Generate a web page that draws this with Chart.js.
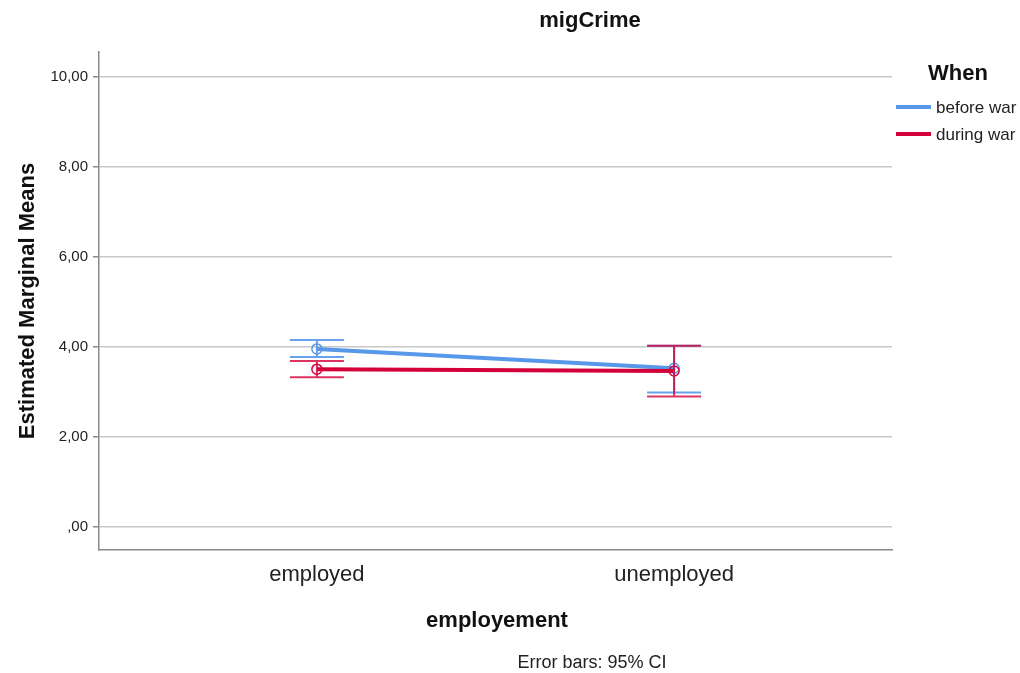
<!DOCTYPE html>
<html>
<head>
<meta charset="utf-8">
<title>migCrime</title>
<script src="https://cdn.jsdelivr.net/npm/chart.js@4"></script>
<style>
  body { margin: 0; background: #fff; }
  canvas { display: block; }
</style>
</head>
<body>
<canvas id="chart-migcrime" width="1020" height="673"></canvas>
<script>
// Estimated marginal means of migCrime by employment status
const categories = ["employed", "unemployed"];
const seriesNames = ["before war", "during war"];

const beforeWar = [3.96, 3.53];
const beforeLow = [3.78, 2.99];
const beforeHigh = [4.16, 4.03];

const duringWar = [3.51, 3.47];
const duringLow = [3.33, 2.90];
const duringHigh = [3.69, 4.03];

const yTicks = [0, 2, 4, 6, 8, 10];

const blue = "rgb(88, 152, 232)";
const red = "rgb(212, 0, 58)";
const FONT = "'Liberation Sans', Arial, sans-serif";

const toPoints = (vals) => vals.map((v, i) => ({ x: i, y: v }));

// SPSS style number format: 4,00 and ,00
const fmt = (v) => {
  let s = v.toFixed(2).replace(".", ",");
  if (s.startsWith("0,")) s = s.slice(1);
  return s;
};

const errorBars = {
  id: "errorBars",
  afterDatasetsDraw(chart) {
    const ctx = chart.ctx;
    const xs = chart.scales.x;
    const ys = chart.scales.y;
    const sets = [
      { low: beforeLow, high: beforeHigh, color: "rgba(88, 152, 232, 0.9)" },
      { low: duringLow, high: duringHigh, color: "rgba(212, 0, 58, 0.8)" },
    ];
    ctx.save();
    ctx.lineWidth = 2;
    for (const s of sets) {
      ctx.strokeStyle = s.color;
      for (let i = 0; i < categories.length; i++) {
        const px = xs.getPixelForValue(i);
        const top = ys.getPixelForValue(s.high[i]);
        const bot = ys.getPixelForValue(s.low[i]);
        ctx.beginPath();
        ctx.moveTo(px, top);
        ctx.lineTo(px, bot);
        ctx.moveTo(px - 27, top);
        ctx.lineTo(px + 27, top);
        ctx.moveTo(px - 27, bot);
        ctx.lineTo(px + 27, bot);
        ctx.stroke();
      }
    }
    ctx.restore();
  },
};

const labels = {
  id: "labels",
  afterDraw(chart) {
    const ctx = chart.ctx;
    ctx.save();
    ctx.fillStyle = "#111";
    ctx.textBaseline = "middle";
    ctx.textAlign = "center";

    ctx.font = "bold 22px " + FONT;
    ctx.fillText("migCrime", 590, 21);
    ctx.fillText("employement", 497, 621);

    ctx.save();
    ctx.translate(28, 301);
    ctx.rotate(-Math.PI / 2);
    ctx.fillText("Estimated Marginal Means", 0, 0);
    ctx.restore();

    ctx.fillText("When", 958, 74);

    ctx.font = "18px " + FONT;
    ctx.fillStyle = "#222";
    ctx.fillText("Error bars: 95% CI", 592, 663);

    // legend
    const colors = [blue, red];
    ctx.textAlign = "left";
    ctx.font = "17px " + FONT;
    seriesNames.forEach((name, i) => {
      const y = 107 + i * 27;
      ctx.strokeStyle = colors[i];
      ctx.lineWidth = 4;
      ctx.beginPath();
      ctx.moveTo(896, y);
      ctx.lineTo(931, y);
      ctx.stroke();
      ctx.fillText(name, 936, y + 1);
    });
    ctx.restore();
  },
};

const lineSet = (label, vals, color) => ({
  label: label,
  data: toPoints(vals),
  showLine: true,
  borderColor: color,
  borderWidth: 4,
  pointRadius: 5,
  pointBorderWidth: 1.5,
  pointBorderColor: color,
  pointBackgroundColor: "rgba(0,0,0,0)",
});

new Chart(document.getElementById("chart-migcrime"), {
  type: "scatter",
  data: {
    datasets: [
      lineSet(seriesNames[1], duringWar, red),
      lineSet(seriesNames[0], beforeWar, blue),
    ],
  },
  options: {
    responsive: false,
    animation: false,
    layout: { padding: { left: 0, top: 52, right: 128, bottom: 0 } },
    plugins: {
      legend: { display: false },
      title: { display: false },
      tooltip: { enabled: false },
    },
    scales: {
      x: {
        type: "linear",
        min: -0.61,
        max: 1.61,
        afterBuildTicks: (scale) => {
          scale.ticks = categories.map((c, i) => ({ value: i }));
        },
        afterFit: (scale) => {
          scale.height = 123;
        },
        grid: { display: false, drawTicks: false },
        border: { display: true, color: "#8a8a8a", width: 1.5 },
        ticks: {
          padding: 12,
          color: "#222",
          font: { family: FONT, size: 22 },
          callback: (v) => categories[v],
        },
      },
      y: {
        min: -0.51,
        max: 10.56,
        afterBuildTicks: (scale) => {
          scale.ticks = yTicks.map((v) => ({ value: v }));
        },
        afterFit: (scale) => {
          scale.width = 99;
        },
        grid: { color: "#c8c8c8", lineWidth: 1.5, tickLength: 6, tickColor: "#8a8a8a" },
        border: { display: true, color: "#8a8a8a", width: 1.5 },
        ticks: {
          padding: 5,
          color: "#222",
          font: { family: FONT, size: 15 },
          callback: (v) => fmt(v),
        },
      },
    },
  },
  plugins: [errorBars, labels],
});
</script>
</body>
</html>
